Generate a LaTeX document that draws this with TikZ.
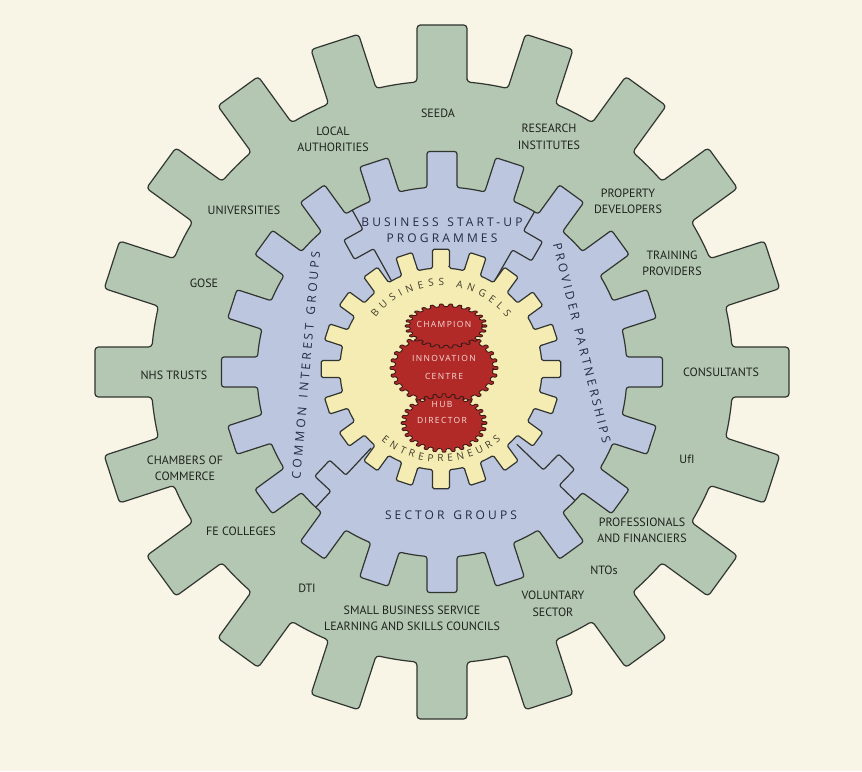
\documentclass[tikz,border=0pt]{standalone}
\usepackage{fontspec}
\usetikzlibrary{decorations.text}
\newfontfamily\lblfont{PT Sans}
\newfontfamily\bluefont[LetterSpace=26, WordSpace=1.4]{Open Sans}
\newfontfamily\yelfont{Open Sans}
\newfontfamily\redfont[LetterSpace=16]{Open Sans}
\definecolor{bgc}{HTML}{F8F5E6}
\definecolor{greenc}{HTML}{B4C7B2}
\definecolor{bluec}{HTML}{BDC6DF}
\definecolor{yelc}{HTML}{F5ECB4}
\definecolor{redc}{HTML}{B22A28}
\definecolor{linec}{HTML}{313531}
\definecolor{redline}{HTML}{3A1A18}
\definecolor{lblc}{HTML}{1E221E}
\definecolor{bluetxt}{HTML}{222A45}
\definecolor{yeltxt}{HTML}{403B28}
\definecolor{redtxt}{HTML}{F6DCD6}
% gear: style, teeth, root radius, tip radius, tooth half width, phase
\newcommand\gearpath[6]{%
  \pgfmathsetmacro\gGs{360/#2}%
  \pgfmathsetmacro\gAr{asin(#5/#3)}%
  \pgfmathsetmacro\gAt{asin(#5/#4)}%
  \pgfmathsetmacro\gSt{#6-\gAr}%
  \draw[#1] (\gSt:#3)
    \foreach \k [evaluate=\k as \gA using #6+(\k-1)*\gGs, evaluate=\k as \gB using #6+\k*\gGs] in {1,...,#2}
    { -- (\gA-\gAt:#4) -- (\gA+\gAt:#4) -- (\gA+\gAr:#3) arc[start angle=\gA+\gAr, end angle=\gB-\gAr, radius=#3] }
    -- cycle;
}
\begin{document}
\begin{tikzpicture}[x=1pt,y=1pt,
  gearline/.style={draw=linec, line width=1.2pt, rounded corners=2.5pt},
  redline/.style={draw=redline, line width=0.9pt, rounded corners=1pt, fill=redc},
  lbl/.style={font=\lblfont\fontsize{12}{16.5}\selectfont, text=lblc, align=center, inner sep=0pt},
  blbl/.style={font=\bluefont\fontsize{12}{16}\selectfont, text=bluetxt, align=center, inner sep=0pt},
  rlbl/.style={font=\redfont\fontsize{8.5}{18}\selectfont, text=redtxt, align=center, inner sep=0pt},
  sepline/.style={draw=linec, line width=1.2pt, rounded corners=2pt}]
\fill[bgc] (-442,-399) rectangle (420,372);
\useasboundingbox (-442,-399) rectangle (420,372);
% outer green gear
\gearpath{fill=greenc, gearline, rounded corners=3.5pt}{20}{291}{348}{25}{90}
% blue gear
\gearpath{fill=bluec, gearline}{20}{185}{221}{15}{90}
% separators between the blue sectors
\foreach \ang/\s in {119/1, 60/-1, 227/-1, 316/1}{
  \draw[sepline, rotate=\ang] (185,0) -- (163,0) -- (163,22*\s) -- (141,22*\s) -- (141,0) -- (104,0);
}
% yellow gear
\begin{scope}[shift={(-1,3)}]
\gearpath{fill=yelc, gearline, rounded corners=1.5pt}{20}{101}{120}{8.5}{90}
\end{scope}
% red gears
\begin{scope}[shift={(2,4)}, yscale=0.7]
\gearpath{redline}{30}{49}{54}{2.2}{0}
\end{scope}
\begin{scope}[shift={(4,46)}, yscale=0.54]
\gearpath{redline}{26}{36}{41}{2}{0}
\end{scope}
\begin{scope}[shift={(2,-51)}, yscale=0.68]
\gearpath{redline}{28}{38}{43}{2}{0}
\end{scope}
% yellow curved texts
\path[decorate, decoration={text along path, text={|\yelfont\fontsize{10}{12}\selectfont|BUSINESS ANGELS}, text color=yeltxt, text align=fit to path}]
  (-1,3) ++(142:83) arc[start angle=142, end angle=38, radius=83];
\path[decorate, decoration={text along path, text={|\yelfont\fontsize{10}{12}\selectfont|ENTREPRENEURS}, text color=yeltxt, text align=fit to path}]
  (-1,3) ++(230:93) arc[start angle=230, end angle=310, radius=93];
% red texts
\node[rlbl] (champ) at (2,48) {CHAMPION};
\node[rlbl] (innov) at (2,5) {INNOVATION\\CENTRE};
\node[rlbl, font=\redfont\fontsize{8.5}{16}\selectfont] (hub) at (0,-41) {HUB\\DIRECTOR};
% blue texts
\node[blbl] (bsp) at (0,142) {BUSINESS START-UP\\PROGRAMMES};
\node[blbl] (sg) at (9,-143) {SECTOR GROUPS};
\node[blbl, rotate=85] (cig) at (-136,7) {COMMON INTEREST GROUPS};
\node[blbl, rotate=-76] (pp) at (140,29) {PROVIDER PARTNERSHIPS};
% outer labels
\node[lbl] (seeda) at (-4,259) {SEEDA};
\node[lbl] (la) at (-109,232.5) {LOCAL\\AUTHORITIES};
\node[lbl] (ri) at (107,235) {RESEARCH\\INSTITUTES};
\node[lbl] (uni) at (-198,162) {UNIVERSITIES};
\node[lbl] (pd) at (186,170.5) {PROPERTY\\DEVELOPERS};
\node[lbl] (tp) at (230,108.5) {TRAINING\\PROVIDERS};
\node[lbl] (gose) at (-238,89) {GOSE};
\node[lbl] (nhs) at (-268,-3) {NHS TRUSTS};
\node[lbl] (cons) at (279,0) {CONSULTANTS};
\node[lbl] (cc) at (-257,-96.5) {CHAMBERS OF\\COMMERCE};
\node[lbl] (ufi) at (245,-87) {UfI};
\node[lbl] (fe) at (-201,-159) {FE COLLEGES};
\node[lbl] (pf) at (200,-158.5) {PROFESSIONALS\\AND FINANCIERS};
\node[lbl] (nto) at (162,-198) {NTOs};
\node[lbl] (dti) at (-135,-216) {DTI};
\node[lbl] (vs) at (111,-232) {VOLUNTARY\\SECTOR};
\node[lbl] (sbs) at (-30,-246.5) {SMALL BUSINESS SERVICE\\LEARNING AND SKILLS COUNCILS};
\end{tikzpicture}
\end{document}
